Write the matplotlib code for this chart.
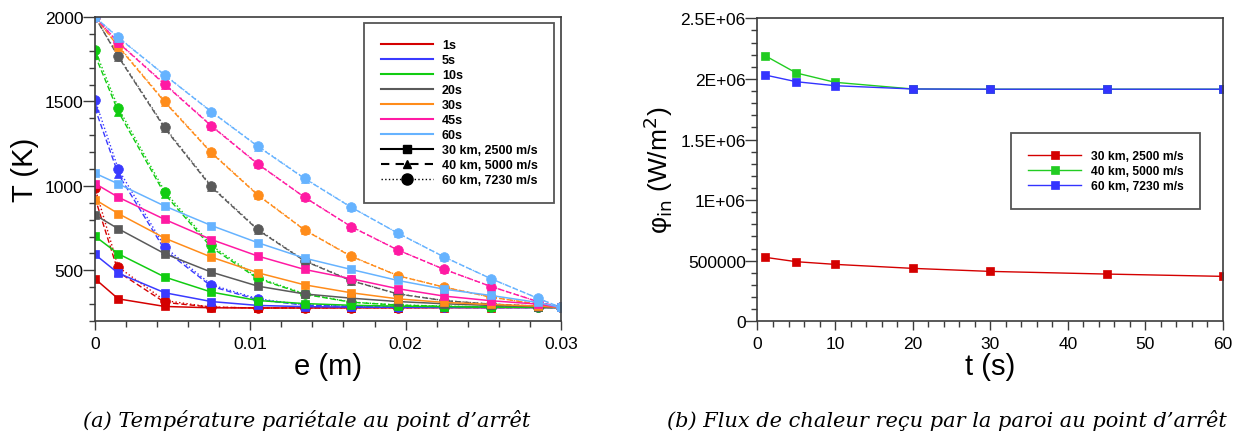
import matplotlib
matplotlib.use('Agg')
import matplotlib.pyplot as plt
from matplotlib.ticker import MultipleLocator, FuncFormatter
from matplotlib.lines import Line2D

plt.rcParams['font.family'] = ['Liberation Sans', 'DejaVu Sans']

# épaisseur (m) - noeuds du maillage
e_nodes = [0, 0.0015, 0.0045, 0.0075, 0.0105, 0.0135, 0.0165, 0.0195, 0.0225, 0.0255, 0.0285, 0.03]

# temps (s)
times = ['1s', '5s', '10s', '20s', '30s', '45s', '60s']
colors = ['#d40000', '#3a3aff', '#11cc11', '#5a5a5a', '#ff8c1a', '#ff1aa3', '#66b3ff']

# T (K) - 30 km, 2500 m/s
T_30km = [
    [450, 331, 286, 278, 277, 277, 278, 278, 279, 279, 280, 280],
    [594, 483, 367, 315, 292, 285, 282, 281, 280, 280, 280, 280],
    [702, 598, 460, 371, 321, 303, 293, 288, 285, 282, 281, 280],
    [828, 746, 598, 489, 406, 360, 335, 315, 302, 292, 285, 280],
    [919, 836, 690, 578, 485, 414, 367, 331, 310, 298, 288, 280],
    [1014, 933, 801, 682, 584, 505, 450, 391, 347, 320, 300, 280],
    [1075, 1012, 880, 765, 663, 572, 505, 440, 388, 351, 310, 280],
]

# T (K) - 40 km, 5000 m/s
T_40km = [
    [930, 490, 310, 282, 277, 278, 279, 279, 280, 280, 280, 280],
    [1460, 1070, 620, 405, 325, 294, 286, 282, 281, 280, 280, 280],
    [1775, 1440, 950, 635, 450, 358, 311, 294, 287, 283, 281, 280],
    [2000, 1765, 1340, 992, 738, 555, 438, 360, 320, 300, 288, 280],
    [2000, 1825, 1495, 1195, 944, 738, 582, 468, 400, 341, 300, 280],
    [2000, 1848, 1600, 1354, 1128, 932, 758, 620, 505, 404, 315, 280],
    [2000, 1878, 1655, 1438, 1233, 1043, 873, 720, 578, 450, 335, 280],
]

# T (K) - 60 km, 7230 m/s
T_60km = [
    [990, 519, 321, 282, 277, 278, 279, 279, 280, 280, 280, 280],
    [1510, 1100, 637, 414, 331, 296, 287, 283, 281, 280, 280, 280],
    [1805, 1462, 966, 647, 456, 361, 312, 295, 288, 283, 281, 280],
    [2000, 1770, 1347, 998, 742, 558, 440, 361, 321, 300, 288, 280],
    [2000, 1830, 1500, 1199, 947, 740, 584, 469, 400, 341, 300, 280],
    [2000, 1850, 1604, 1357, 1130, 933, 759, 621, 505, 404, 315, 280],
    [2000, 1880, 1657, 1440, 1235, 1045, 874, 720, 578, 450, 335, 280],
]

# flux (W/m2) en fonction du temps
t_flux = [1, 5, 10, 20, 30, 45, 60]
flux_30km = [528000, 492000, 470000, 437000, 412000, 390000, 371000]
flux_40km = [2191000, 2049000, 1972000, 1917000, 1915000, 1915000, 1915000]
flux_60km = [2032000, 1977000, 1944000, 1917000, 1915000, 1915000, 1915000]
flux_labels = ['30 km, 2500 m/s', '40 km, 5000 m/s', '60 km, 7230 m/s']
flux_colors = ['#d40000', '#22cc22', '#3333ff']

fig = plt.figure(figsize=(12.43, 4.35), dpi=100)
ax1 = fig.add_axes([0.0764, 0.2598, 0.3749, 0.6988])
ax2 = fig.add_axes([0.6094, 0.2590, 0.3745, 0.6966])

spine_col = '#3c3c3c'

# (a) température
for i in range(len(times)):
    c = colors[i]
    ax1.plot(e_nodes, T_30km[i], '-', color=c, lw=1.1, marker='s', ms=6, mec=c, mew=0.5)
    ax1.plot(e_nodes, T_40km[i], '--', color=c, lw=1.0, marker='^', ms=6, mec=c, mew=0.5, dashes=(4, 2))
    ax1.plot(e_nodes, T_60km[i], ':', color=c, lw=1.0, marker='o', ms=7, mec=c, mew=0.5)

ax1.set_xlim(0, 0.03)
ax1.set_ylim(200, 2000)
ax1.xaxis.set_major_locator(MultipleLocator(0.01))
ax1.xaxis.set_minor_locator(MultipleLocator(0.002))
ax1.yaxis.set_major_locator(MultipleLocator(500))
ax1.yaxis.set_minor_locator(MultipleLocator(100))
ax1.xaxis.set_major_formatter(FuncFormatter(lambda v, p: '0' if v == 0 else '%g' % v))
ax1.set_xlabel('e (m)', fontsize=21, labelpad=1)
ax1.set_ylabel('T (K)', fontsize=21, labelpad=4)

handles = [Line2D([], [], color=c, lw=1.5) for c in colors]
handles.append(Line2D([], [], color='k', lw=1.5, ls='-', marker='s', ms=6))
handles.append(Line2D([], [], color='k', lw=1.5, ls='--', marker='^', ms=6, dashes=(4, 3)))
handles.append(Line2D([], [], color='k', lw=1.0, ls=':', marker='o', ms=8))
labels = times + flux_labels
leg1 = ax1.legend(handles, labels, loc='upper right', bbox_to_anchor=(0.985, 0.98),
                  prop={'weight': 'bold', 'size': 9}, handlelength=4.2, handletextpad=0.7,
                  borderpad=1.3, labelspacing=0.24, fancybox=False, framealpha=1,
                  edgecolor='#555555', borderaxespad=0)
leg1.get_frame().set_linewidth(1.3)

# (b) flux
fluxes = [flux_30km, flux_40km, flux_60km]
for i in range(3):
    c = flux_colors[i]
    ax2.plot(t_flux, fluxes[i], '-', color=c, lw=1.0, marker='s', ms=6, mec=c, mew=0.5, label=flux_labels[i])

def flux_fmt(v, p):
    if v == 0:
        return '0'
    if v < 1e6:
        return '%d' % v
    return ('%g' % (v / 1e6)) + 'E+06'

ax2.set_xlim(0, 60)
ax2.set_ylim(0, 2.5e6)
ax2.xaxis.set_major_locator(MultipleLocator(10))
ax2.xaxis.set_minor_locator(MultipleLocator(2))
ax2.yaxis.set_major_locator(MultipleLocator(5e5))
ax2.yaxis.set_minor_locator(MultipleLocator(1e5))
ax2.yaxis.set_major_formatter(FuncFormatter(flux_fmt))
ax2.set_xlabel('t (s)', fontsize=21, labelpad=1)
ax2.set_ylabel(r'φ$_{\mathrm{in}}$ (W/m$^2$)', fontsize=19, labelpad=4)
leg2 = ax2.legend(loc='upper right', bbox_to_anchor=(0.951, 0.621), prop={'weight': 'bold', 'size': 8.7},
                  handlelength=4.4, handletextpad=0.75, borderpad=1.4, labelspacing=0.25,
                  fancybox=False, framealpha=1, edgecolor='#555555', borderaxespad=0)
leg2.get_frame().set_linewidth(1.3)

for ax in (ax1, ax2):
    for s in ax.spines.values():
        s.set_color(spine_col)
        s.set_linewidth(1.2)
    ax.tick_params(axis='both', which='both', direction='out', colors=spine_col, labelcolor='black',
                   labelsize=12.5, top=False, right=False)
    ax.tick_params(axis='y', which='major', length=8.5, width=1.0, pad=0)
    ax.tick_params(axis='y', which='minor', length=4.5, width=1.0)
    ax.tick_params(axis='x', which='major', length=6.5, width=1.0, pad=4)
    ax.tick_params(axis='x', which='minor', length=4.5, width=1.0)

# légendes des figures
fig.text(0.247, 0.034, "(a) Température pariétale au point d’arrêt", ha='center', va='center',
         family='DejaVu Serif', style='italic', fontsize=15)
fig.text(0.762, 0.034, "(b) Flux de chaleur reçu par la paroi au point d’arrêt", ha='center', va='center',
         family='DejaVu Serif', style='italic', fontsize=15)

plt.savefig('out.png', dpi=100)
